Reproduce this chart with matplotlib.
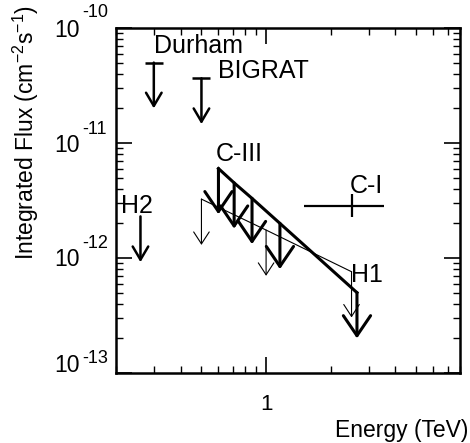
import matplotlib
matplotlib.use('Agg')
import matplotlib.pyplot as plt
import matplotlib.transforms as mtransforms

plt.rcParams['font.family'] = ['Liberation Sans', 'DejaVu Sans']
plt.rcParams['mathtext.fontset'] = 'custom'
plt.rcParams['mathtext.rm'] = 'Liberation Sans'
plt.rcParams['mathtext.it'] = 'Liberation Sans:italic'

# ---------------------------------------------------------------------------
# Data (energies in TeV, integrated flux in cm^-2 s^-1)
# ---------------------------------------------------------------------------
durham_E, durham_F = 0.30, 5.0e-11
bigrat_E, bigrat_F = 0.50, 3.65e-11
h2_E, h2_F = 0.26, 2.3e-12

# C-III upper-limit line, with arrows dropping from it
c3_E = [0.60, 0.71, 0.86, 1.16, 2.65]
c3_F = [6.0e-12, 4.5e-12, 3.3e-12, 2.0e-12, 5.0e-13]

# H1 upper-limit line
h1_E = [0.50, 1.00, 2.50]
h1_F = [3.25e-12, 1.75e-12, 7.6e-13]

# C-I point with error bars
c1_E, c1_F = 2.5, 2.85e-12
c1_Elo, c1_Ehi = 1.5, 3.55
c1_Flo, c1_Fhi = 2.25e-12, 3.6e-12

labels = ['Durham', 'BIGRAT', 'C-III', 'C-I', 'H1', 'H2']
label_E = [0.30, 0.60, 0.585, 2.46, 2.48, 0.212]
label_F = [6.1e-11, 3.65e-11, 7.0e-12, 3.65e-12, 6.2e-13, 2.48e-12]

ytick_vals = [1e-10, 1e-11, 1e-12, 1e-13]
ytick_exps = ['-10', '-11', '-12', '-13']

DROP = 2.5  # arrow length as a flux ratio

fig = plt.figure(figsize=(4.7, 4.43), dpi=100)
ax = fig.add_axes([116 / 470, 1 - 373 / 443, 344 / 470, 345 / 443])
ax.set_xscale('log')
ax.set_yscale('log')
ax.set_xlim(0.2, 8)
ax.set_ylim(1e-13, 1e-10)


def down_arrow(E, F, lw, hl, hw):
    ax.annotate('', xy=(E, F / DROP), xytext=(E, F),
                arrowprops=dict(arrowstyle='->,head_length=%g,head_width=%g' % (hl, hw),
                                mutation_scale=1, lw=lw, color='black',
                                shrinkA=0, shrinkB=0))


# Durham, BIGRAT (with caps) and H2
for E, F, cap in [(durham_E, durham_F, True), (bigrat_E, bigrat_F, True),
                  (h2_E, h2_F, False)]:
    down_arrow(E, F, 1.8, 9.5, 5.6)
    if cap:
        ax.plot([E], [F], marker='_', ms=13.5, mew=1.8, color='black')

# H1 thin line with arrows
ax.plot(h1_E, h1_F, color='black', lw=0.8)
for E, F in zip(h1_E, h1_F):
    down_arrow(E, F, 0.8, 8.6, 5.6)

# C-III thick line with arrows
ax.plot(c3_E, c3_F, color='black', lw=2.2)
for E, F in zip(c3_E, c3_F):
    down_arrow(E, F, 2.2, 14.4, 9.8)

# C-I error bars
ax.errorbar([c1_E], [c1_F],
            xerr=[[c1_E - c1_Elo], [c1_Ehi - c1_E]],
            yerr=[[c1_F - c1_Flo], [c1_Fhi - c1_F]],
            fmt='none', ecolor='black', elinewidth=1.6, capsize=0)

for txt, E, F in zip(labels, label_E, label_F):
    ax.text(E, F, txt, fontsize=18, ha='left', va='baseline')

# axes styling
for sp in ax.spines.values():
    sp.set_linewidth(1.8)
ax.tick_params(which='both', direction='in', top=True, right=True,
               labelleft=False, labelbottom=False)
ax.tick_params(which='major', length=11.5, width=1.2)
ax.tick_params(which='minor', length=5, width=1.0)
ax.set_xticks([1])

# y tick labels drawn as "10" plus a raised exponent
base_off = [9, 9.5, 8, -1]      # px below tick for baseline of "10"
sup_off = [-11, -9, -10, -10.3]  # px for baseline of exponent
ytr = ax.get_yaxis_transform()
for v, e, b, s in zip(ytick_vals, ytick_exps, base_off, sup_off):
    t1 = mtransforms.offset_copy(ytr, fig=fig, x=0, y=-b * 0.72, units='points')
    ax.text(-36 / 344, v, '10', transform=t1, fontsize=16.5,
            ha='right', va='baseline', clip_on=False)
    t2 = mtransforms.offset_copy(ytr, fig=fig, x=0, y=-s * 0.72, units='points')
    ax.text(-33.5 / 344, v, e, transform=t2, fontsize=13,
            ha='left', va='baseline', clip_on=False)

# x tick label
ax.text(1, -37 / 345, '1', transform=ax.get_xaxis_transform(),
        fontsize=16, ha='center', va='baseline', clip_on=False)

fig.text(468.5 / 470, 1 - 436.7 / 443, 'Energy (TeV)', fontsize=16.5,
         ha='right', va='baseline')
fig.text(33.5 / 470, 1 - 133 / 443, r'Integrated Flux (cm$^{-2}$s$^{-1}$)',
         fontsize=16.5, rotation=90, rotation_mode='anchor',
         ha='center', va='baseline')

fig.savefig('out.png', dpi=100)
